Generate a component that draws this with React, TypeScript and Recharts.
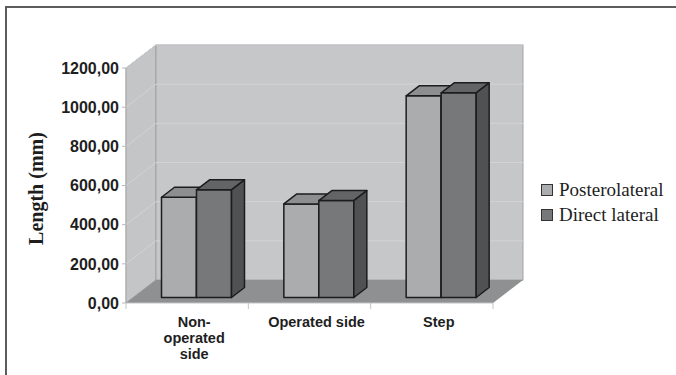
import {
  BarChart,
  Bar,
  XAxis,
  YAxis,
  CartesianGrid,
  ReferenceArea,
  Legend
} from "recharts";

// data
const categories = ["Non-operated side", "Operated side", "Step"];
const xLabelLines = [["Non-", "operated", "side"], ["Operated side"], ["Step"]];
const posterolateral = [512, 478, 1030];
const directLateral = [550, 495, 1045];
const yTicks = [0, 200, 400, 600, 800, 1000, 1200];
const gridValues = [200, 400, 600, 800, 1000, 1200];
const seriesNames = ["Posterolateral", "Direct lateral"];

const data = categories.map((name, i) => ({
  name,
  posterolateral: posterolateral[i],
  directLateral: directLateral[i]
}));

// fake 3d depth
const WALL_DX = 30;
const WALL_DY = -23;
const BAR_DX = 13;
const BAR_DY = -10;
const BAR_SHIFT_X = 9.5;
const BAR_SHIFT_Y = -5.5;

const colors = [
  { front: "#abacae", top: "#8d8e90", side: "#6c6d6f" },
  { front: "#77787a", top: "#636466", side: "#505153" }
];

const sans = "'Liberation Sans', Arial, sans-serif";
const serif = "'Liberation Serif', 'Times New Roman', serif";

function Walls(props: any) {
  const { x, y, width, height } = props;
  const bottom = y + height;
  const right = x + width;
  return (
    <g>
      <polygon
        points={`${x},${y} ${x + WALL_DX},${y + WALL_DY} ${x + WALL_DX},${bottom + WALL_DY} ${x},${bottom}`}
        fill="#c4c5c7"
        stroke="#9c9c9e"
      />
      <rect
        x={x + WALL_DX}
        y={y + WALL_DY}
        width={width}
        height={height}
        fill="#c6c7c9"
        stroke="#a2a2a4"
      />
      <polygon
        points={`${x},${bottom} ${right},${bottom} ${right + WALL_DX},${bottom + WALL_DY} ${x + WALL_DX},${bottom + WALL_DY}`}
        fill="#8f9092"
      />
    </g>
  );
}

const gridLine = (props: any) => {
  const { x1, y1, x2, index } = props;
  return (
    <g key={`grid-${index}-${y1}`}>
      <line x1={x1} y1={y1} x2={x1 + WALL_DX} y2={y1 + WALL_DY} stroke="#d3d3d5" />
      <line
        x1={x1 + WALL_DX}
        y1={y1 + WALL_DY}
        x2={x2 + WALL_DX}
        y2={y1 + WALL_DY}
        stroke="#d3d3d5"
      />
    </g>
  );
};

function Box3D(props: any) {
  const { x, y, width, height, front, top, side } = props;
  if (!height) return null;
  const fx = x + BAR_SHIFT_X;
  const fy = y + BAR_SHIFT_Y;
  const w = width;
  const h = height;
  const line = { stroke: "#1d1d1d", strokeWidth: 1.5, strokeLinejoin: "round" as const };
  return (
    <g>
      <rect x={fx} y={fy} width={w} height={h} fill={front} {...line} />
      <polygon
        points={`${fx},${fy} ${fx + BAR_DX},${fy + BAR_DY} ${fx + w + BAR_DX},${fy + BAR_DY} ${fx + w},${fy}`}
        fill={top}
        {...line}
      />
      <polygon
        points={`${fx + w},${fy} ${fx + w + BAR_DX},${fy + BAR_DY} ${fx + w + BAR_DX},${fy + h + BAR_DY} ${fx + w},${fy + h}`}
        fill={side}
        {...line}
      />
    </g>
  );
}

function XTick(props: any) {
  const { x, y, index, width, visibleTicksCount } = props;
  const bw = width && visibleTicksCount ? width / visibleTicksCount : 122;
  const lines = xLabelLines[index] || [];
  const isLast = index === visibleTicksCount - 1;
  return (
    <g>
      <line x1={x - bw / 2} y1={y} x2={x - bw / 2} y2={y + 6} stroke="#c4c4c4" />
      {isLast && <line x1={x + bw / 2} y1={y} x2={x + bw / 2} y2={y + 6} stroke="#c4c4c4" />}
      <text
        x={x + 7}
        y={y + 24}
        textAnchor="middle"
        fontFamily={sans}
        fontWeight="bold"
        fontSize={14.5}
        fill="#1e1e1e"
      >
        {lines.map((l, i) => (
          <tspan key={l} x={x + 7} dy={i === 0 ? 0 : 16}>
            {l}
          </tspan>
        ))}
      </text>
    </g>
  );
}

function YTick(props: any) {
  const { x, y, payload } = props;
  return (
    <text
      x={x}
      y={y}
      dy={5.8}
      textAnchor="end"
      fontFamily={sans}
      fontWeight="bold"
      fontSize={16}
      fill="#1e1e1e"
    >
      {Number(payload.value).toFixed(2).replace(".", ",")}
    </text>
  );
}

function YLabel(props: any) {
  const { viewBox } = props;
  const cx = viewBox.x + 36;
  const cy = viewBox.y + viewBox.height / 2 + 3;
  return (
    <text
      x={cx}
      y={cy}
      transform={`rotate(-90, ${cx}, ${cy})`}
      textAnchor="middle"
      dominantBaseline="central"
      fontFamily={serif}
      fontWeight="bold"
      fontSize={20}
      fill="#1e1e1e"
    >
      Length (mm)
    </text>
  );
}

function LegendContent() {
  return (
    <div style={{ fontFamily: serif, fontSize: 19, color: "#1e1e1e" }}>
      {seriesNames.map((n, i) => (
        <div key={n} style={{ display: "flex", alignItems: "center", height: 25 }}>
          <span
            style={{
              width: 10,
              height: 10,
              background: colors[i].front,
              border: "1px solid #333",
              marginRight: 6,
              display: "inline-block"
            }}
          />
          {n}
        </div>
      ))}
    </div>
  );
}

export default function App() {
  return (
    <div
      style={{
        position: "absolute",
        left: 0,
        top: 0,
        width: 676,
        height: 375,
        overflow: "hidden",
        background: "#fff"
      }}
    >
      {/* frame, only top and left visible in the scan */}
      <div
        style={{
          position: "absolute",
          left: 5,
          top: 6,
          width: 700,
          height: 400,
          borderTop: "2px solid #5c5c5c",
          borderLeft: "2px solid #5c5c5c"
        }}
      />
      <div style={{ position: "absolute", left: 0, top: 0 }}>
        <BarChart
          width={676}
          height={375}
          data={data}
          margin={{ top: 68, right: 183, bottom: 42, left: 0 }}
          barSize={35}
          barGap={0}
        >
          <ReferenceArea y1={0} y2={1200} shape={Walls} zIndex={-200} ifOverflow="visible" />
          <CartesianGrid
            vertical={false}
            horizontal={gridLine}
            horizontalValues={gridValues}
            zIndex={-100}
          />
          <XAxis
            dataKey="name"
            height={30}
            tickSize={0}
            tickMargin={0}
            axisLine={{ stroke: "#c4c4c4" }}
            tickLine={false}
            tick={<XTick />}
            interval={0}
          />
          <YAxis
            width={126}
            domain={[0, 1200]}
            ticks={yTicks}
            tickSize={4}
            tickMargin={3}
            axisLine={{ stroke: "#b8b8b8" }}
            tickLine={{ stroke: "#b8b8b8" }}
            tick={<YTick />}
            label={<YLabel />}
          />
          <Legend
            layout="horizontal"
            verticalAlign="middle"
            align="center"
            content={<LegendContent />}
            wrapperStyle={{ left: 541, top: 177.5, width: 135 }}
          />
          <Bar
            dataKey="posterolateral"
            name={seriesNames[0]}
            fill={colors[0].front}
            isAnimationActive={false}
            shape={(p: any) => <Box3D {...p} {...colors[0]} />}
          />
          <Bar
            dataKey="directLateral"
            name={seriesNames[1]}
            fill={colors[1].front}
            isAnimationActive={false}
            shape={(p: any) => <Box3D {...p} {...colors[1]} />}
          />
        </BarChart>
      </div>
    </div>
  );
}
